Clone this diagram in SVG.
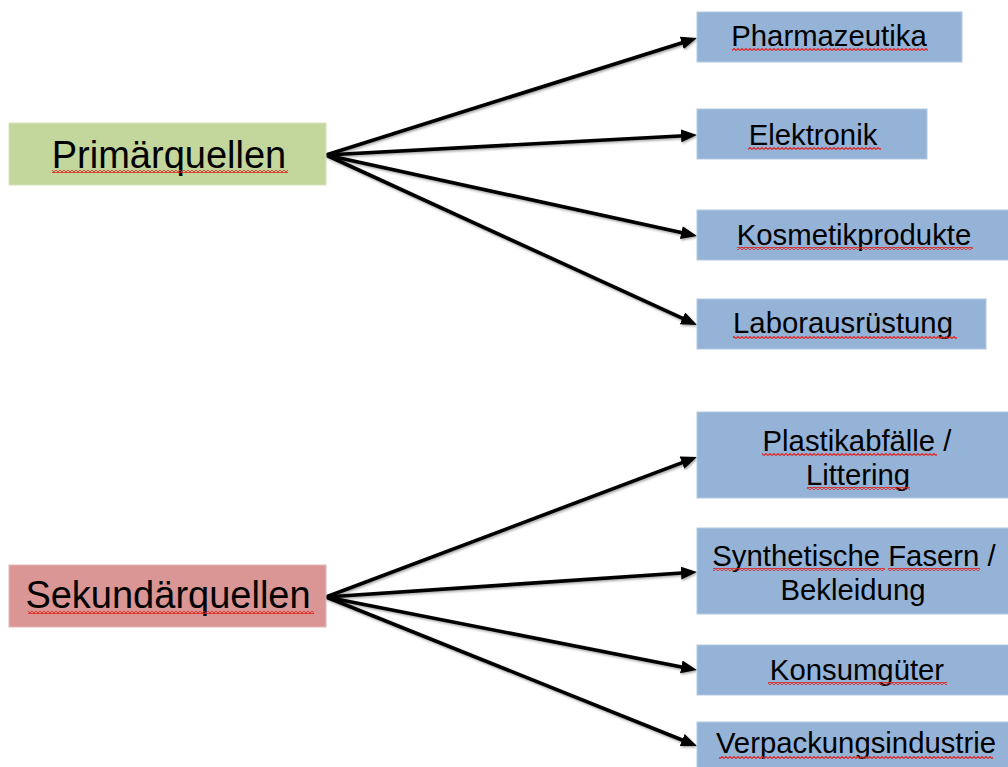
<svg xmlns="http://www.w3.org/2000/svg" width="1008" height="767" viewBox="0 0 1008 767">
  <defs>
    <style>
      .big { font-family: "Liberation Sans", Arial, sans-serif; font-size: 38px; fill: #000; text-anchor: middle; }
      .small { font-family: "Liberation Sans", Arial, sans-serif; font-size: 29.3px; fill: #000; text-anchor: middle; }
      .green { fill: #C3D69B; stroke: #d6e3bd; stroke-width: 1; }
      .red { fill: #D99694; stroke: #e6b5b4; stroke-width: 1; }
      .blue { fill: #95B3D7; stroke: #b4c9e3; stroke-width: 1; }
      .conn { stroke: #000; stroke-width: 3.6; fill: none; marker-end: url(#arrow); }
      .squig { fill: url(#wave); }
    </style>
    <marker id="arrow" markerUnits="userSpaceOnUse" markerWidth="18" markerHeight="14" refX="8" refY="6.5" orient="auto">
      <path d="M0,0 L16,6.5 L0,13 z" fill="#000"/>
    </marker>
    <pattern id="wave" patternUnits="userSpaceOnUse" width="4" height="3">
      <path d="M0,2.5 L2,0.5 L4,2.5" fill="none" stroke="#e0201a" stroke-width="1.1"/>
    </pattern>
    <filter id="shadow" x="-5%" y="-5%" width="110%" height="110%">
      <feDropShadow dx="1" dy="1.5" stdDeviation="1.2" flood-color="#000" flood-opacity="0.35"/>
    </filter>
  </defs>

  <g id="connectors" filter="url(#shadow)">
    <line class="conn" x1="326" y1="155" x2="689.37" y2="40.41"/>
    <line class="conn" x1="326" y1="155" x2="689.01" y2="135.43"/>
    <line class="conn" x1="326" y1="155" x2="689.18" y2="234.29"/>
    <line class="conn" x1="326" y1="155" x2="689.73" y2="321.67"/>
    <line class="conn" x1="326" y1="597" x2="689.52" y2="459.82"/>
    <line class="conn" x1="326" y1="597" x2="689.02" y2="572.54"/>
    <line class="conn" x1="326" y1="597" x2="689.15" y2="668.46"/>
    <line class="conn" x1="326" y1="597" x2="689.58" y2="743.02"/>
  </g>

  <g id="primaerquellen">
    <rect class="green" x="9" y="123" width="317" height="62"/>
    <text class="big" x="169" y="168">Primärquellen</text>
    <rect class="squig" x="52" y="170" width="236" height="3"/>
  </g>

  <g id="sekundaerquellen">
    <rect class="red" x="9" y="565" width="317" height="62"/>
    <text class="big" x="168" y="608">Sekundärquellen</text>
    <rect class="squig" x="28" y="611" width="286" height="3"/>
  </g>

  <g id="pharmazeutika">
    <rect class="blue" x="697" y="12" width="265" height="50"/>
    <text class="small" x="829" y="46">Pharmazeutika</text>
    <rect class="squig" x="732" y="48" width="196" height="3"/>
  </g>

  <g id="elektronik">
    <rect class="blue" x="697" y="109" width="230" height="50"/>
    <text class="small" x="813" y="145">Elektronik</text>
    <rect class="squig" x="748" y="147" width="133" height="3"/>
  </g>

  <g id="kosmetikprodukte">
    <rect class="blue" x="697" y="210" width="312" height="50"/>
    <text class="small" x="854" y="245">Kosmetikprodukte</text>
    <rect class="squig" x="737" y="247" width="236" height="3"/>
  </g>

  <g id="laborausruestung">
    <rect class="blue" x="697" y="299" width="289" height="50"/>
    <text class="small" x="843" y="333">Laborausrüstung</text>
    <rect class="squig" x="733" y="336" width="224" height="3"/>
  </g>

  <g id="plastikabfaelle">
    <rect class="blue" x="697" y="412" width="312" height="86"/>
    <text class="small" x="857" y="451">Plastikabfälle /</text>
    <text class="small" x="858" y="485">Littering</text>
    <rect class="squig" x="762" y="453" width="175" height="3"/>
    <rect class="squig" x="807" y="487" width="103" height="3"/>
  </g>

  <g id="synthetische-fasern">
    <rect class="blue" x="697" y="528" width="312" height="86"/>
    <text class="small" x="854" y="566">Synthetische Fasern /</text>
    <text class="small" x="853" y="600">Bekleidung</text>
    <rect class="squig" x="713" y="568" width="172" height="3"/>
    <rect class="squig" x="888" y="568" width="92" height="3"/>
  </g>

  <g id="konsumgueter">
    <rect class="blue" x="697" y="645" width="312" height="50"/>
    <text class="small" x="857" y="680">Konsumgüter</text>
    <rect class="squig" x="768" y="682" width="179" height="3"/>
  </g>

  <g id="verpackungsindustrie">
    <rect class="blue" x="697" y="722" width="312" height="50"/>
    <text class="small" x="856" y="753">Verpackungsindustrie</text>
    <rect class="squig" x="719" y="756" width="274" height="3"/>
  </g>
</svg>
